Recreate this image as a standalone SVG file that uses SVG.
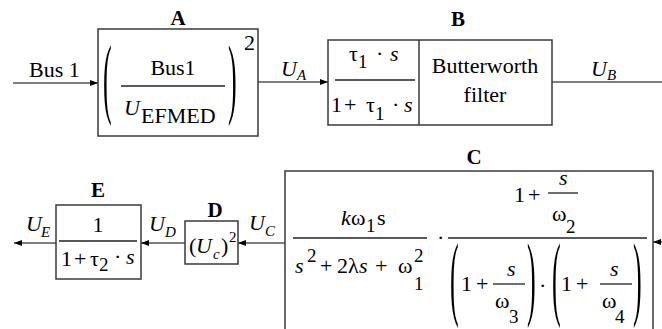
<svg xmlns="http://www.w3.org/2000/svg" width="662" height="329" viewBox="0 0 662 329">
<defs>
<style>
text{font-family:"Liberation Serif","Times New Roman",serif;font-size:22px;fill:#000}
.box{fill:none;stroke:#3a3a3a;stroke-width:1.5}
.ln{fill:none;stroke:#555;stroke-width:1.5}
.fr{stroke:#222;stroke-width:1.3}
.it{font-style:italic}
.lbl{font-weight:bold;font-size:21px;text-anchor:middle}
.sub{font-size:19px}
.ss{font-size:15px}
.mid{text-anchor:middle}
.par{font-size:26px}
</style>
<marker id="ah" markerWidth="8" markerHeight="6" refX="8" refY="3" orient="auto" markerUnits="userSpaceOnUse">
<path d="M0,0 L8,3 L0,6 z" fill="#000"/>
</marker>
</defs>
<rect width="662" height="329" fill="#fff"/>

<g id="connectors">
<path class="ln" d="M13,83 H98" marker-end="url(#ah)"/>
<path class="ln" d="M258,82 H328" marker-end="url(#ah)"/>
<path class="ln" d="M552,82 H662"/>
<path class="ln" d="M662,242 H653" marker-end="url(#ah)"/>
<path class="ln" d="M285,243 H238" marker-end="url(#ah)"/>
<path class="ln" d="M185,243 H141" marker-end="url(#ah)"/>
<path class="ln" d="M56,243 H14" marker-end="url(#ah)"/>
<text x="29" y="77">Bus 1</text>
<text class="it" x="281" y="76">U</text><text class="it ss" x="297" y="80">A</text>
<text class="it" x="591" y="76">U</text><text class="it ss" x="607" y="80">B</text>
<text class="it" x="249" y="230">U</text><text class="it ss" x="265" y="236">C</text>
<text class="it" x="149" y="231">U</text><text class="it ss" x="165" y="237">D</text>
<text class="it" x="26" y="231">U</text><text class="it ss" x="41" y="237">E</text>
</g>

<g id="A">
<rect class="box" x="98" y="29" width="160" height="107"/>
<text class="lbl" x="178" y="25">A</text>
<text class="par" transform="translate(103,107) scale(1,3.45)">(</text>
<text class="par" transform="translate(228,107) scale(1,3.45)">)</text>
<text x="244" y="50">2</text>
<text class="mid" x="173" y="75">Bus1</text>
<line class="fr" x1="121" y1="86" x2="225" y2="86"/>
<text class="it" x="124" y="115">U</text>
<text x="141" y="123">EFMED</text>
</g>

<g id="B">
<rect class="box" x="328" y="40" width="224" height="85"/>
<line class="box" x1="419" y1="40" x2="419" y2="125"/>
<text class="lbl" x="458" y="26">B</text>
<text x="349" y="61">τ</text><text class="sub" x="358" y="68">1</text><text x="376" y="61">·</text><text class="it" x="390" y="61">s</text>
<line class="fr" x1="335" y1="80" x2="415" y2="80"/>
<text x="331" y="112">1</text><text x="344" y="112">+</text><text x="366" y="112">τ</text><text class="sub" x="375" y="120">1</text><text x="392" y="112">·</text><text class="it" x="404" y="112">s</text>
<text class="mid" x="485" y="73">Butterworth</text>
<text class="mid" x="485" y="102">filter</text>
</g>

<g id="C">
<rect class="box" x="285" y="171" width="368" height="170"/>
<text class="lbl" x="474" y="164">C</text>
<text class="it" x="341" y="225">k</text><text x="351" y="225">ω</text><text class="sub" x="366" y="232">1</text><text x="377" y="225">s</text>
<line class="fr" x1="293" y1="238" x2="427" y2="238"/>
<text class="it" x="295" y="273">s</text><text class="sub" x="307" y="262">2</text>
<text x="320" y="273">+</text><text x="337" y="273">2λ</text><text class="it" x="359" y="273">s</text><text x="375" y="273">+</text>
<text x="398" y="273">ω</text><text class="sub" x="414" y="262">2</text><text class="sub" x="414" y="290">1</text>
<text x="437" y="245">·</text>
<line class="fr" x1="448" y1="238" x2="647" y2="238"/>
<text x="514" y="202">1</text><text x="528" y="202">+</text>
<text class="it" x="559" y="185">s</text>
<line class="fr" x1="548" y1="193" x2="578" y2="193"/>
<text x="552" y="221">ω</text><text class="sub" x="566" y="233">2</text>
<text class="par" transform="translate(450,308) scale(1,3.6)">(</text>
<text x="461" y="291">1</text><text x="476" y="291">+</text>
<text class="it" x="507" y="276">s</text>
<line class="fr" x1="493" y1="284" x2="525" y2="284"/>
<text x="495" y="308">ω</text><text class="sub" x="509" y="323">3</text>
<text class="par" transform="translate(527,308) scale(1,3.6)">)</text>
<text x="539" y="293">·</text>
<text class="par" transform="translate(552,308) scale(1,3.6)">(</text>
<text x="561" y="291">1</text><text x="576" y="291">+</text>
<text class="it" x="610" y="276">s</text>
<line class="fr" x1="600" y1="284" x2="632" y2="284"/>
<text x="602" y="308">ω</text><text class="sub" x="615" y="323">4</text>
<text class="par" transform="translate(633,308) scale(1,3.6)">)</text>
</g>

<g id="D">
<rect class="box" x="185" y="221" width="53" height="43"/>
<text class="lbl" x="215" y="217">D</text>
<text x="189" y="253">(</text><text class="it" x="196" y="253">U</text><text class="it ss" x="213" y="259">c</text><text x="221" y="253">)</text><text class="ss" x="229" y="242">2</text>
</g>

<g id="E">
<rect class="box" x="56" y="205" width="85" height="74"/>
<text class="lbl" x="98" y="197">E</text>
<text class="mid" x="98" y="232">1</text>
<line class="fr" x1="59" y1="241" x2="137" y2="241"/>
<text x="61" y="266">1</text><text x="74" y="266">+</text><text x="90" y="266">τ</text><text class="sub" x="99" y="271">2</text><text x="114" y="264">·</text><text class="it" x="126" y="264">s</text>
</g>
</svg>
